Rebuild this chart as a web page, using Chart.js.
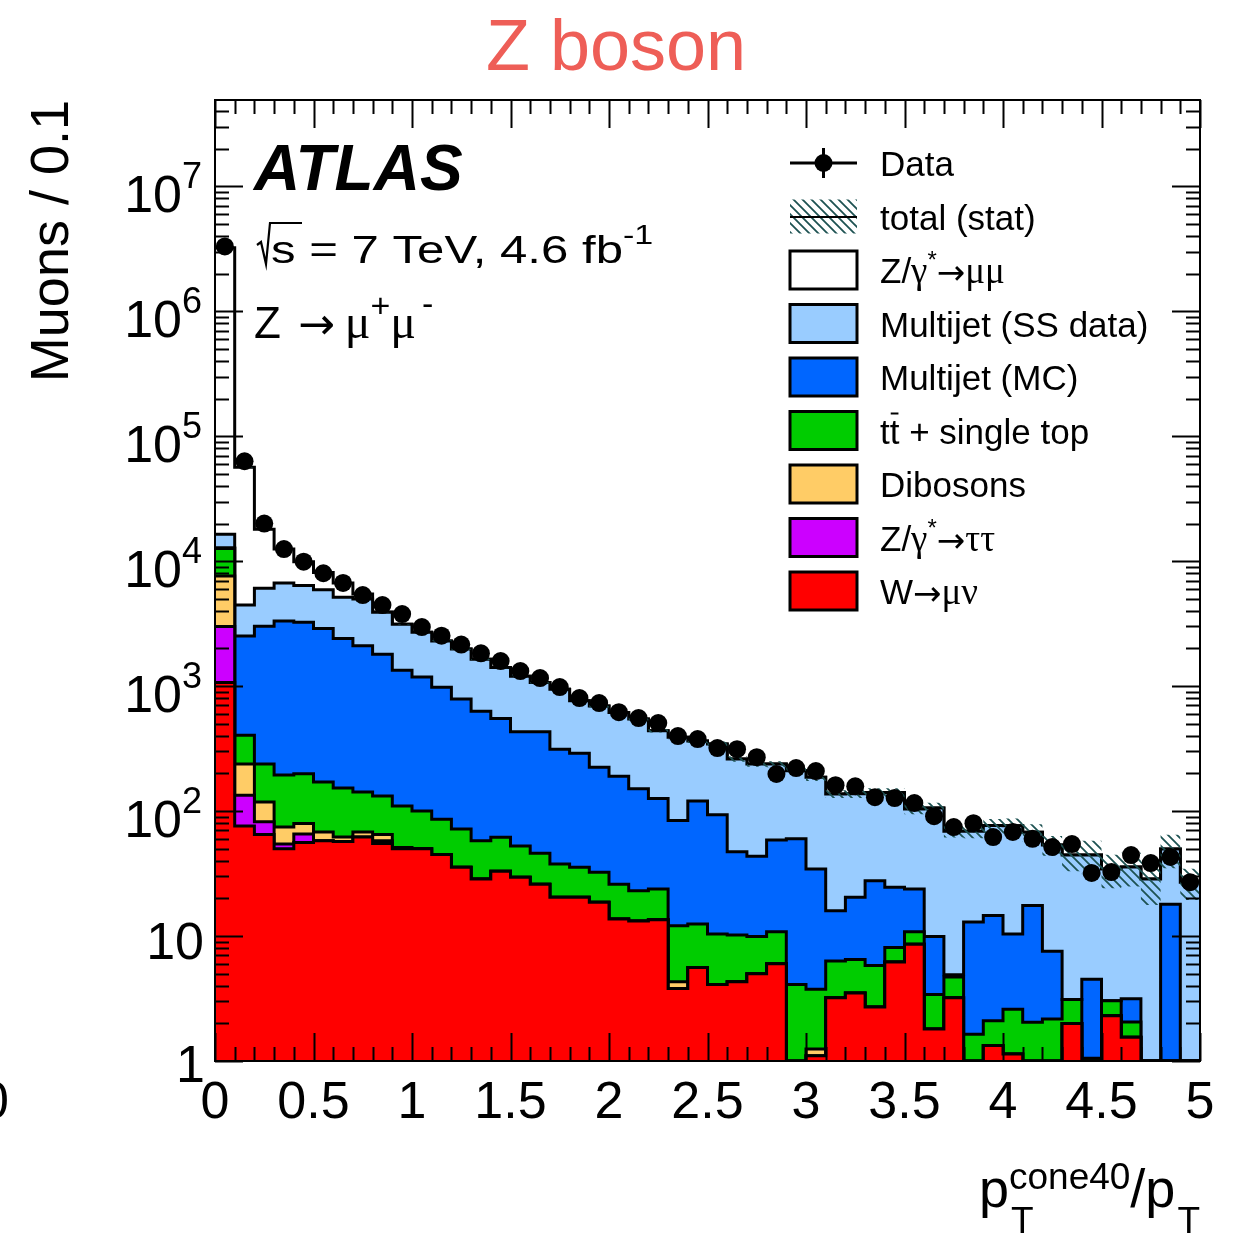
<!DOCTYPE html>
<html>
<head>
<meta charset="utf-8">
<title>Z boson – muon isolation</title>
<script src="https://cdn.jsdelivr.net/npm/chart.js@4.4.1/dist/chart.umd.min.js"></script>
<style>
  html, body { margin: 0; padding: 0; background: #fff; }
  canvas { display: block; }
</style>
</head>
<body>
<canvas id="c" width="1241" height="1234"></canvas>
<script>
// p_T^cone40 / p_T distribution, 50 bins of width 0.1 from 0 to 5
const binWidth = 0.1;
const nBins = 50;

// Observed muons per bin
const dataCounts = [3.3e6, 6.3e4, 2.0e4, 1.25e4, 9.9e3, 8.0e3, 6.7e3, 5.35e3, 4450, 3770,
  2965, 2530, 2150, 1830, 1585, 1318, 1160, 982, 802, 731,
  619, 555, 506, 398, 377, 319, 313, 270, 198, 221,
  209, 161, 158, 129, 127, 116, 91, 74.5, 80, 62,
  68, 60, 51.5, 54.5, 32, 32.5, 44.5, 38.4, 42.9, 27];

// Expected contributions per bin (stacked bottom to top)
const wmunu = [1070, 76, 65, 50, 56, 58, 57, 62, 55, 50,
  50, 45, 35.5, 28.6, 33, 29.5, 26, 20.4, 20.4, 18.6,
  13.7, 13.2, 13.5, 3.8, 5.6, 4.1, 4.3, 5.0, 6.0, 0,
  1.1, 3.2, 3.5, 2.7, 6.2, 8.6, 1.8, 3.2, 0, 1.33,
  1.14, 0, 0, 2.0, 0, 2.3, 1.55, 0, 0, 0];
const ztautau = [1930, 58, 17, 4.5, 9.5, 0, 0, 0, 3, 0,
  0, 0, 0, 0, 0, 0, 0, 0, 0, 0,
  0, 0, 0, 0, 0, 0, 0, 0, 0, 0,
  0, 0, 0, 0, 0, 0, 0, 0, 0, 0,
  0, 0, 0, 0, 0, 0, 0, 0, 0, 0];
const dibosons = [4600, 104, 36, 20, 14, 10, 5, 6, 7, 1,
  0, 0, 0, 0, 0, 0, 0, 0, 0, 0,
  0, 0, 0, 0.5, 0, 0, 0, 0, 0, 0,
  0.15, 0, 0, 0, 0, 0, 0, 0, 0, 0,
  0, 0, 0, 0, 0, 0, 0, 0, 0, 0];
const topQuark = [5000, 167, 120, 120, 119, 103, 91, 74, 67, 59,
  50, 41, 36.5, 29.4, 28.7, 23, 20, 17.3, 15.1, 13.8,
  12.3, 9.8, 10.3, 7.8, 6.9, 6.3, 5.9, 4.9, 4.8, 4.1,
  2.5, 3.1, 3.0, 3.1, 1.9, 2.2, 1.6, 1.5, 1.64, 0.77,
  1.46, 2.04, 2.17, 1.1, 1.05, 0.74, 0.5, 0, 0, 0];
const multijetMC = [200, 2115, 2780, 3120, 3050, 2720, 2250, 1960, 1670, 1230,
  1080, 894, 718, 572, 488, 378, 385, 275, 255, 192,
  164, 128, 102, 72, 108, 83, 37, 33.5, 48, 56,
  30.6, 9.6, 13.9, 21.9, 16.5, 13, 6.5, 0.2, 11.3, 12.5,
  7.8, 15.5, 5.4, 0, 3.45, 0, 1.1, 0, 18, 0];
const multijetSS = [3600, 1930, 3060, 3355, 3150, 3010, 2730, 2870, 2100, 1790,
  1520, 1320, 1190, 1010, 860, 769, 639, 633, 472, 468,
  426, 394, 313, 305, 244, 251, 214, 195, 179, 150,
  152, 121, 117, 113, 116, 80, 96, 64, 56, 62,
  66, 50, 46, 41.4, 40, 31.4, 32.5, 28.6, 31.7, 27];
const zmumu = [3.2e6, 52050, 11920, 5830, 3500, 2200, 1540, 480, 20, 0,
  0, 0, 0, 0, 0, 0, 0, 0, 0, 0,
  0, 0, 0, 0, 0, 0, 0, 0, 0, 0,
  0, 0, 0, 0, 0, 0, 0, 0, 0, 0,
  0, 0, 0, 0, 0, 0, 0, 0, 0, 0];

// Relative statistical uncertainty of the total expectation
const statErr = [0.005, 0.005, 0.005, 0.005, 0.005, 0.005, 0.005, 0.005, 0.005, 0.005,
  0.01, 0.01, 0.012, 0.013, 0.015, 0.016, 0.018, 0.02, 0.022, 0.024,
  0.026, 0.028, 0.03, 0.035, 0.04, 0.045, 0.05, 0.05, 0.055, 0.06,
  0.065, 0.07, 0.075, 0.08, 0.085, 0.09, 0.1, 0.11, 0.12, 0.13,
  0.14, 0.16, 0.18, 0.26, 0.3, 0.3, 0.3, 0.38, 0.3, 0.28];

// Axis ticks
const xTickLabels = ['0', '0.5', '1', '1.5', '2', '2.5', '3', '3.5', '4', '4.5', '5'];
const yTickExponents = [0, 1, 2, 3, 4, 5, 6, 7];

const SANS = "'Liberation Sans', Arial, Helvetica, sans-serif";
const SERIF = "'Liberation Serif', 'Times New Roman', serif";
const ARROW = "'DejaVu Sans', sans-serif";
const HATCH = '#1d5252';

const components = [
  { label: 'W→μν', values: wmunu, color: '#ff0000' },
  { label: 'Z/γ*→ττ', values: ztautau, color: '#cc00ff' },
  { label: 'Dibosons', values: dibosons, color: '#ffcc66' },
  { label: 'tt̄ + single top', values: topQuark, color: '#00cc00' },
  { label: 'Multijet (MC)', values: multijetMC, color: '#0066ff' },
  { label: 'Multijet (SS data)', values: multijetSS, color: '#99ccff' },
  { label: 'Z/γ*→μμ', values: zmumu, color: '#ffffff' }
];

function makeHatch(color, size) {
  const c = document.createElement('canvas');
  c.width = size; c.height = size;
  const g = c.getContext('2d');
  g.strokeStyle = color; g.lineWidth = 1.8;
  g.beginPath();
  g.moveTo(-2, -2); g.lineTo(size + 2, size + 2);
  g.moveTo(-2, size - 2); g.lineTo(2, size + 2);
  g.moveTo(size - 2, -2); g.lineTo(size + 2, 2);
  g.stroke();
  return g.createPattern(c, 'repeat');
}
const hatchPattern = makeHatch(HATCH, 9);

// Histogram outline: one point per lower bin edge plus the upper edge of the last bin
function stepPoints(vals) {
  const pts = vals.map((v, i) => ({ x: i * binWidth, y: Math.max(v, 1) }));
  pts.push({ x: nBins * binWidth, y: Math.max(vals[nBins - 1], 1) });
  return pts;
}

// Cumulative stack
const cumulative = [];
let running = new Array(nBins).fill(0);
components.forEach(c => {
  running = running.map((r, i) => r + c.values[i]);
  cumulative.push(running.slice());
});
const totalExp = cumulative[cumulative.length - 1];

const datasets = [];
datasets.push({
  label: 'Data',
  data: dataCounts.map((v, i) => ({ x: (i + 0.5) * binWidth, y: v })),
  showLine: false,
  pointRadius: 9,
  pointHoverRadius: 9,
  pointBackgroundColor: '#000',
  pointBorderWidth: 0,
  order: 0
});
datasets.push({
  label: 'total (stat) up',
  data: stepPoints(totalExp.map((t, i) => t * (1 + statErr[i]))),
  stepped: true,
  fill: '+1',
  backgroundColor: hatchPattern,
  borderColor: 'rgba(0,0,0,0)',
  borderWidth: 0,
  pointRadius: 0,
  order: 1
});
datasets.push({
  label: 'total (stat) down',
  data: stepPoints(totalExp.map((t, i) => t * (1 - statErr[i]))),
  stepped: true,
  fill: false,
  borderColor: 'rgba(0,0,0,0)',
  borderWidth: 0,
  pointRadius: 0,
  order: 1
});
components.forEach((c, k) => {
  datasets.push({
    label: c.label,
    data: stepPoints(cumulative[k]),
    stepped: true,
    fill: 'start',
    backgroundColor: c.color,
    borderColor: '#000',
    borderWidth: 3,
    borderJoinStyle: 'miter',
    pointRadius: 0,
    order: 2 + k
  });
});

function drawRuns(ctx, x, y, parts, opts) {
  opts = opts || {};
  const sx = opts.scaleX || 1;
  let w = 0;
  parts.forEach(p => {
    ctx.font = p.font;
    p._w = ctx.measureText(p.text).width * sx + (p.gap || 0);
    w += p._w;
  });
  let cx = opts.align === 'right' ? x - w : opts.align === 'center' ? x - w / 2 : x;
  parts.forEach(p => {
    ctx.save();
    ctx.font = p.font;
    ctx.fillStyle = p.color || opts.color || '#000';
    ctx.textAlign = 'left';
    ctx.textBaseline = 'alphabetic';
    ctx.translate(cx, y + (p.dy || 0));
    ctx.scale(sx, 1);
    ctx.fillText(p.text, 0, 0);
    ctx.restore();
    p._x = cx;
    cx += p._w;
  });
  return w;
}

const f = (size, fam, style) => `${style ? style + ' ' : ''}${size}px ${fam || SANS}`;

function legendParts(label) {
  const s = f(35), g = f(37, SERIF), sup = f(24), arr = f(34, ARROW);
  switch (label) {
    case 'Z/γ*→μμ': return [{ text: 'Z/', font: s }, { text: 'γ', font: g }, { text: '*', font: sup, dy: -15 }, { text: '→', font: arr, dy: 1 }, { text: 'μμ', font: g }];
    case 'Z/γ*→ττ': return [{ text: 'Z/', font: s }, { text: 'γ', font: g }, { text: '*', font: sup, dy: -15 }, { text: '→', font: arr, dy: 1 }, { text: 'ττ', font: g }];
    case 'W→μν': return [{ text: 'W', font: s }, { text: '→', font: arr, dy: 1 }, { text: 'μν', font: g }];
    case 'tt̄ + single top': return [{ text: 't', font: s }, { text: 't', font: s, bar: true }, { text: ' + single top', font: s }];
    default: return [{ text: label, font: s }];
  }
}

const decor = {
  id: 'decor',
  beforeDraw(chart) {
    const ctx = chart.ctx;
    ctx.save();
    ctx.fillStyle = '#fff';
    ctx.fillRect(0, 0, chart.width, chart.height);
    ctx.restore();
  },
  afterDatasetsDraw(chart) {
    const ctx = chart.ctx;
    const a = chart.chartArea;
    const xs = chart.scales.x, ys = chart.scales.y;
    ctx.save();

    // frame
    ctx.strokeStyle = '#000';
    ctx.lineWidth = 2;
    ctx.strokeRect(a.left, a.top, a.right - a.left, a.bottom - a.top);

    // x ticks (inside, bottom and top)
    ctx.lineWidth = 2;
    ctx.beginPath();
    for (let k = 0; k <= nBins; k++) {
      const px = Math.round(xs.getPixelForValue(k * binWidth)) + 0.5;
      const len = k % 5 === 0 ? 28 : 14;
      ctx.moveTo(px, a.bottom); ctx.lineTo(px, a.bottom - len);
      ctx.moveTo(px, a.top); ctx.lineTo(px, a.top + len);
    }
    // y ticks (inside, left and right)
    for (let d = 0; d <= 8; d++) {
      for (let m = 1; m <= 9; m++) {
        const v = m * Math.pow(10, d);
        if (v > ys.max) break;
        const py = Math.round(ys.getPixelForValue(v)) + 0.5;
        const len = m === 1 ? 28 : 14;
        ctx.moveTo(a.left, py); ctx.lineTo(a.left + len, py);
        ctx.moveTo(a.right, py); ctx.lineTo(a.right - len, py);
      }
    }
    ctx.stroke();

    // x tick labels
    ctx.fillStyle = '#000';
    ctx.font = f(52);
    ctx.textAlign = 'center';
    ctx.textBaseline = 'alphabetic';
    xTickLabels.forEach(t => {
      ctx.fillText(t, xs.getPixelForValue(parseFloat(t)), 1118);
    });
    ctx.textAlign = 'right';
    ctx.fillText('0', 9, 1118);

    // y tick labels
    yTickExponents.forEach(e => {
      const py = ys.getPixelForValue(Math.pow(10, e));
      if (e === 0) drawRuns(ctx, 205, py + 21, [{ text: '1', font: f(52) }], { align: 'right' });
      else if (e === 1) drawRuns(ctx, 204, py + 23, [{ text: '10', font: f(52) }], { align: 'right' });
      else drawRuns(ctx, 202, py + 26, [{ text: '10', font: f(52) }, { text: String(e), font: f(36), dy: -24 }], { align: 'right' });
    });

    // y axis title
    ctx.save();
    ctx.translate(68, 100);
    ctx.rotate(-Math.PI / 2);
    ctx.font = f(54);
    ctx.textAlign = 'right';
    ctx.fillText('Muons / 0.1', 0, 0);
    ctx.restore();

    // x axis title: p_T^cone40 / p_T
    {
      const pF = f(54), sF = f(37);
      ctx.font = pF; const wp = ctx.measureText('p').width; const wsl = ctx.measureText('/p').width;
      ctx.font = sF; const wsup = ctx.measureText('cone40').width; const wT = ctx.measureText('T').width;
      const total = wp + wsup + wsl + wT + 2;
      const x0 = 1200 - total;
      ctx.textAlign = 'left';
      ctx.font = pF; ctx.fillText('p', x0, 1207);
      ctx.font = sF; ctx.fillText('cone40', x0 + wp, 1189);
      ctx.fillText('T', x0 + wp + 2, 1233);
      ctx.font = pF; ctx.fillText('/p', x0 + wp + wsup, 1207);
      ctx.font = sF; ctx.fillText('T', x0 + wp + wsup + wsl + 2, 1233);
    }

    // title
    ctx.fillStyle = '#ee5e57';
    ctx.font = f(72);
    ctx.textAlign = 'center';
    ctx.fillText('Z boson', 616, 70);
    ctx.fillStyle = '#000';

    // ATLAS label
    ctx.textAlign = 'left';
    ctx.font = f(64, SANS, 'italic bold');
    ctx.fillText('ATLAS', 254, 190);

    // sqrt(s) line
    {
      const b = 263, x0 = 255;
      ctx.lineWidth = 2.2;
      ctx.lineJoin = 'miter';
      ctx.beginPath();
      ctx.moveTo(x0 + 2, b - 18);
      ctx.lineTo(x0 + 6, b - 21);
      ctx.lineTo(x0 + 11, b + 1);
      ctx.lineTo(x0 + 15, b - 40);
      ctx.lineTo(x0 + 47, b - 40);
      ctx.stroke();
      drawRuns(ctx, x0 + 16, b, [
        { text: 's = 7 TeV, 4.6 fb', font: f(39) },
        { text: '-1', font: f(27), dy: -19 }
      ], { scaleX: 1.26 });
    }

    // channel label
    drawRuns(ctx, 254, 338, [
      { text: 'Z', font: f(44), gap: 17 },
      { text: '→', font: f(44, ARROW), dy: 1, gap: 10 },
      { text: 'μ', font: f(48, SERIF) },
      { text: '+', font: f(34), dy: -21 },
      { text: 'μ', font: f(48, SERIF), gap: 6 },
      { text: '-', font: f(34), dy: -23 }
    ]);

    // legend
    const rows = [{ kind: 'data', label: 'Data' }, { kind: 'hatch', label: 'total (stat)' }];
    for (let k = components.length - 1; k >= 0; k--) rows.push({ kind: 'box', label: components[k].label, color: components[k].color });
    rows.forEach((r, k) => {
      const base = 176 + k * 53.5;
      const cy = base - 13;
      if (r.kind === 'data') {
        ctx.lineWidth = 3;
        ctx.beginPath();
        ctx.moveTo(790, cy); ctx.lineTo(857, cy);
        ctx.moveTo(823.5, cy - 15); ctx.lineTo(823.5, cy + 15);
        ctx.stroke();
        ctx.beginPath(); ctx.arc(823.5, cy, 9, 0, Math.PI * 2); ctx.fill();
      } else if (r.kind === 'hatch') {
        ctx.fillStyle = hatchPattern;
        ctx.fillRect(790, cy - 17, 67, 34);
        ctx.fillStyle = '#000';
        ctx.lineWidth = 2;
        ctx.beginPath(); ctx.moveTo(790, cy + 0.5); ctx.lineTo(857, cy + 0.5); ctx.stroke();
      } else {
        ctx.fillStyle = r.color;
        ctx.fillRect(790, cy - 19, 67, 38);
        ctx.fillStyle = '#000';
        ctx.lineWidth = 3;
        ctx.strokeRect(790, cy - 19, 67, 38);
      }
      const parts = legendParts(r.label);
      drawRuns(ctx, 880, base, parts);
      parts.forEach(p => {
        if (p.bar) {
          ctx.lineWidth = 2;
          ctx.beginPath();
          ctx.moveTo(p._x + 1, base - 30); ctx.lineTo(p._x + p._w - 1, base - 30);
          ctx.stroke();
        }
      });
    });

    ctx.restore();
  }
};

new Chart(document.getElementById('c').getContext('2d'), {
  type: 'line',
  data: { datasets },
  options: {
    responsive: false,
    animation: false,
    devicePixelRatio: 1,
    layout: { padding: { left: 215, right: 41, top: 100, bottom: 173 } },
    plugins: { legend: { display: false }, tooltip: { enabled: false } },
    scales: {
      x: { type: 'linear', min: 0, max: nBins * binWidth, display: false },
      y: { type: 'logarithmic', min: 1, max: 4.9e7, display: false }
    }
  },
  plugins: [decor]
});
</script>
</body>
</html>
